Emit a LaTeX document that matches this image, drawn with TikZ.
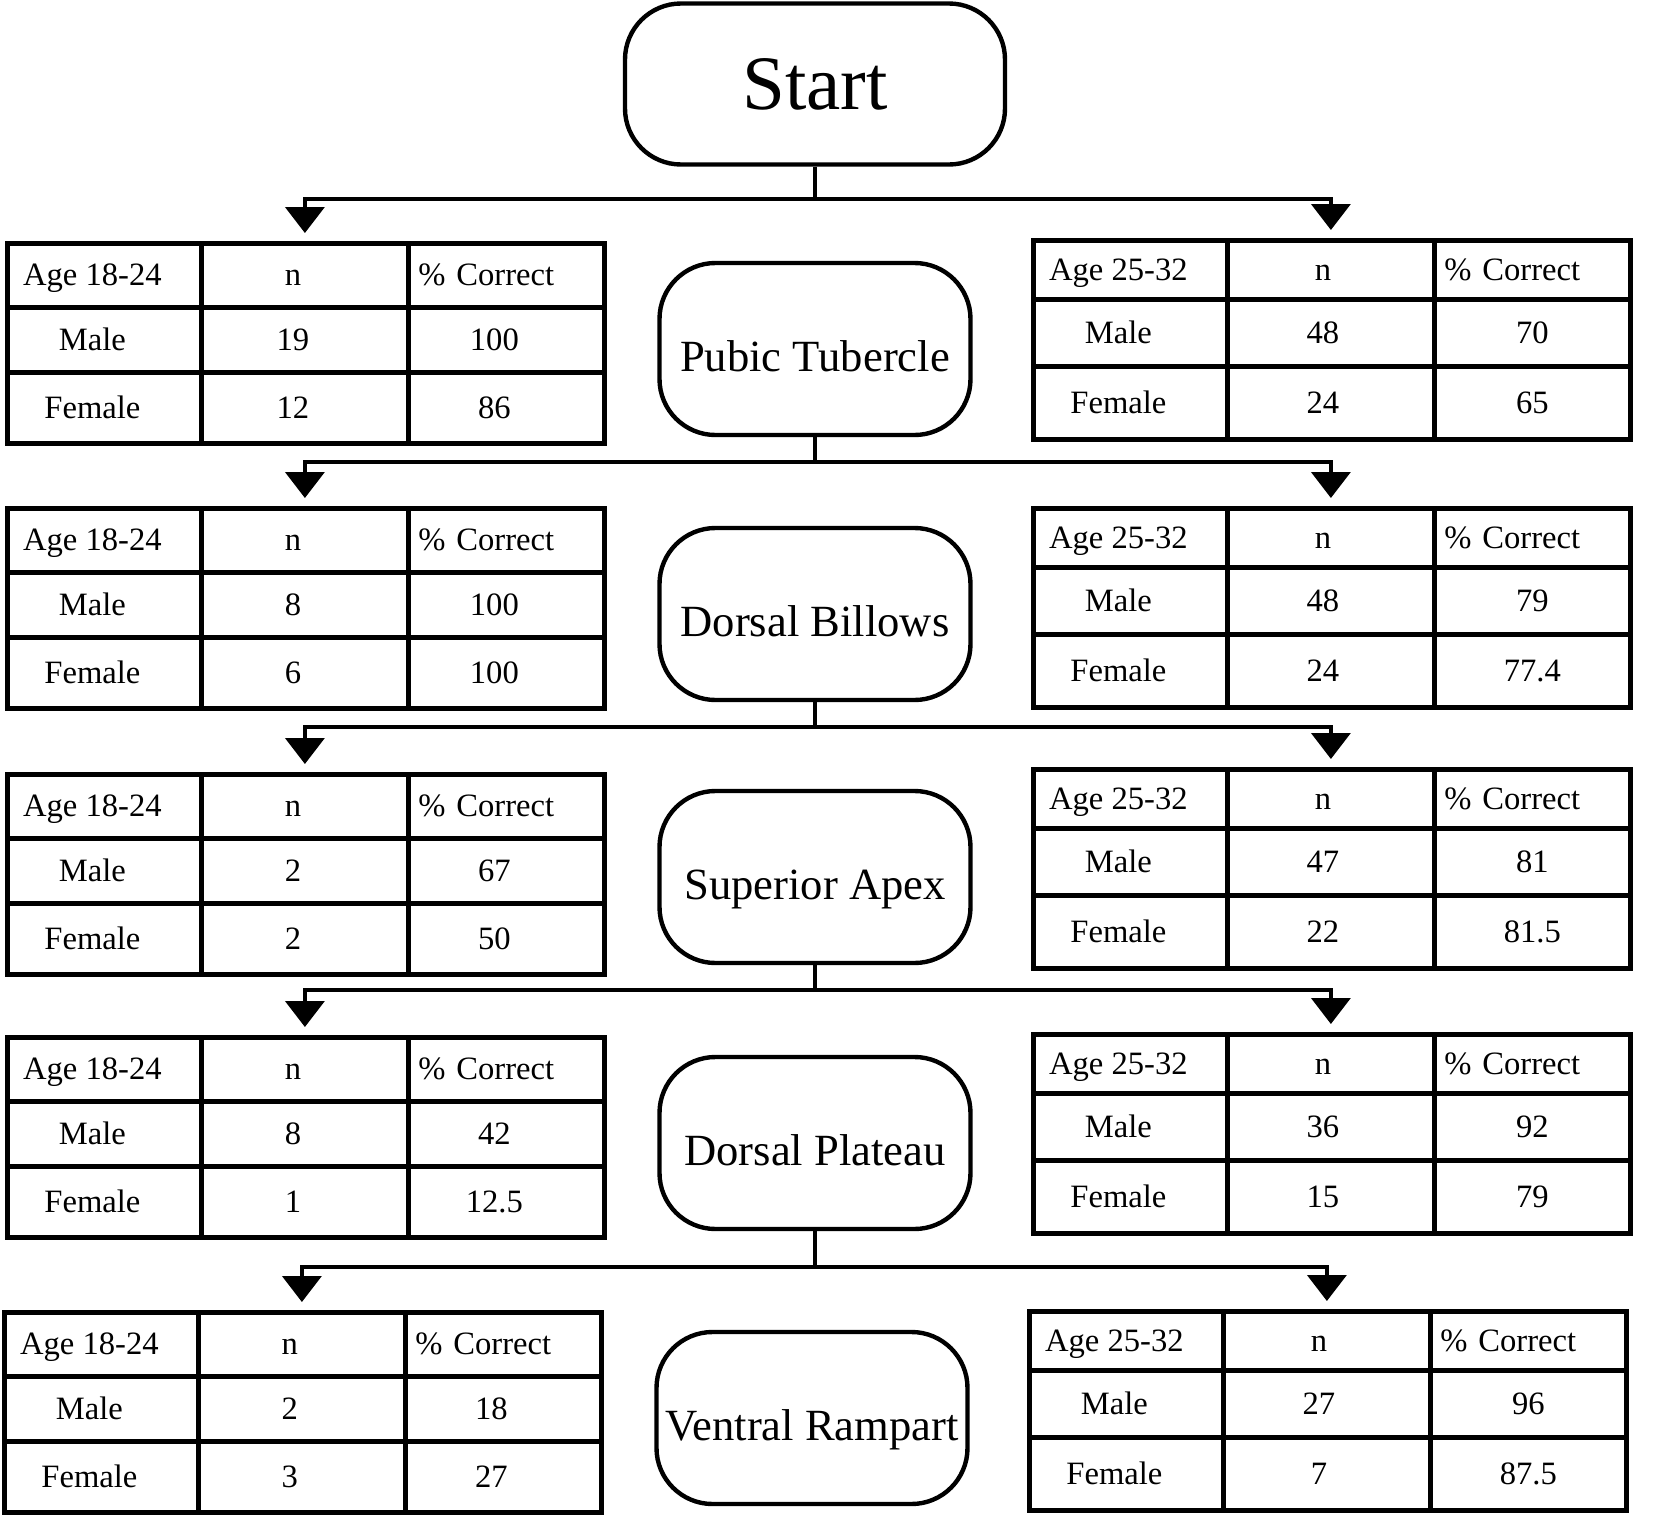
\documentclass[tikz,border=0pt]{standalone}
\usepackage{fontspec}
\setmainfont{Liberation Serif}
\usetikzlibrary{matrix,arrows.meta}

\tikzset{
    startbox/.style={draw, line width=2.2pt, rounded corners=28pt, minimum width=190pt,
        minimum height=80.5pt, inner sep=2pt, font=\fontsize{38.5}{44}\selectfont},
    procbox/.style={draw, line width=2.2pt, rounded corners=28pt, minimum width=155.5pt,
        minimum height=86pt, inner sep=0.5pt, text height=22pt, text depth=0pt,
        font=\fontsize{22.3}{26}\selectfont},
    flow/.style={line width=1.9pt},
    flowarrow/.style={flow, -{Triangle[width=19.5pt,length=13pt]}, shorten >=4pt},
    agetab/.style={matrix of nodes, inner sep=0pt, outer sep=0pt, anchor=north west,
        column sep=-2.4pt, row sep=-2.4pt,
        nodes={draw, line width=2.4pt, inner sep=0pt, outer sep=1.2pt, anchor=center,
            text height=12.5pt, text depth=2pt, font=\fontsize{16.3}{19}\selectfont},
        column 1/.style={nodes={minimum width=97pt}},
        column 2/.style={nodes={minimum width=103.5pt}},
        column 3/.style={nodes={minimum width=98pt}}},
    lefttab/.style={agetab,
        nodes={execute at end node=\kern12pt},
        row 1/.style={nodes={minimum height=32pt}},
        row 2/.style={nodes={minimum height=32.5pt}},
        row 3/.style={nodes={minimum height=35.5pt}}},
    righttab/.style={agetab,
        column 1/.append style={nodes={execute at end node=\kern12pt}},
        column 2/.append style={nodes={execute at end node=\kern8pt}},
        row 1/.style={nodes={minimum height=29.5pt}},
        row 2/.style={nodes={minimum height=33.5pt}},
        row 3/.style={nodes={minimum height=36.5pt}}},
    pcthead/.style={text width=88pt, align=left, inner xsep=5pt}
}

\begin{document}
\begin{tikzpicture}[x=0.5pt,y=-0.5pt]

        \useasboundingbox (0,0) rectangle (1667,1526);

        % The boxes down the middle
        \node[startbox] (start) at (815,84) {Start};
        \node[procbox] (pubic) at (815,349) {Pubic Tubercle};
        \node[procbox] (billows) at (815,614) {Dorsal Billows};
        \node[procbox] (apex) at (815,877) {Superior Apex};
        \node[procbox] (plateau) at (815,1143) {Dorsal Plateau};
        \node[procbox] (rampart) at (812,1418) {Ventral Rampart};

        % Tables for age 18-24
        \matrix[lefttab] (young1) at (5,241) {
            Age 18-24 & n & |[pcthead]| \% Correct \\
            Male & 19 & 100 \\
            Female & 12 & 86 \\
        };
        \matrix[lefttab] (young2) at (5,506) {
            Age 18-24 & n & |[pcthead]| \% Correct \\
            Male & 8 & 100 \\
            Female & 6 & 100 \\
        };
        \matrix[lefttab] (young3) at (5,772) {
            Age 18-24 & n & |[pcthead]| \% Correct \\
            Male & 2 & 67 \\
            Female & 2 & 50 \\
        };
        \matrix[lefttab] (young4) at (5,1035) {
            Age 18-24 & n & |[pcthead]| \% Correct \\
            Male & 8 & 42 \\
            Female & 1 & 12.5 \\
        };
        \matrix[lefttab] (young5) at (2,1310) {
            Age 18-24 & n & |[pcthead]| \% Correct \\
            Male & 2 & 18 \\
            Female & 3 & 27 \\
        };

        % Tables for age 25-32
        \matrix[righttab] (old1) at (1031,238) {
            Age 25-32 & n & |[pcthead]| \% Correct \\
            Male & 48 & 70 \\
            Female & 24 & 65 \\
        };
        \matrix[righttab] (old2) at (1031,506) {
            Age 25-32 & n & |[pcthead]| \% Correct \\
            Male & 48 & 79 \\
            Female & 24 & 77.4 \\
        };
        \matrix[righttab] (old3) at (1031,767) {
            Age 25-32 & n & |[pcthead]| \% Correct \\
            Male & 47 & 81 \\
            Female & 22 & 81.5 \\
        };
        \matrix[righttab] (old4) at (1031,1032) {
            Age 25-32 & n & |[pcthead]| \% Correct \\
            Male & 36 & 92 \\
            Female & 15 & 79 \\
        };
        \matrix[righttab] (old5) at (1027,1309) {
            Age 25-32 & n & |[pcthead]| \% Correct \\
            Male & 27 & 96 \\
            Female & 7 & 87.5 \\
        };

        % Split each box into both age groups
        \draw[flow] (start.south) -- ++(0,32) coordinate (j1);
        \draw[flowarrow] (j1) -| (young1-1-2.north);
        \draw[flowarrow] (j1) -| (old1-1-2.north);

        \draw[flow] (pubic.south) -- ++(0,25) coordinate (j2);
        \draw[flowarrow] (j2) -| (young2-1-2.north);
        \draw[flowarrow] (j2) -| (old2-1-2.north);

        \draw[flow] (billows.south) -- ++(0,25) coordinate (j3);
        \draw[flowarrow] (j3) -| (young3-1-2.north);
        \draw[flowarrow] (j3) -| (old3-1-2.north);

        \draw[flow] (apex.south) -- ++(0,25) coordinate (j4);
        \draw[flowarrow] (j4) -| (young4-1-2.north);
        \draw[flowarrow] (j4) -| (old4-1-2.north);

        \draw[flow] (plateau.south) -- ++(0,36) coordinate (j5);
        \draw[flowarrow] (j5) -| (young5-1-2.north);
        \draw[flowarrow] (j5) -| (old5-1-2.north);

    \end{tikzpicture}
\end{document}
